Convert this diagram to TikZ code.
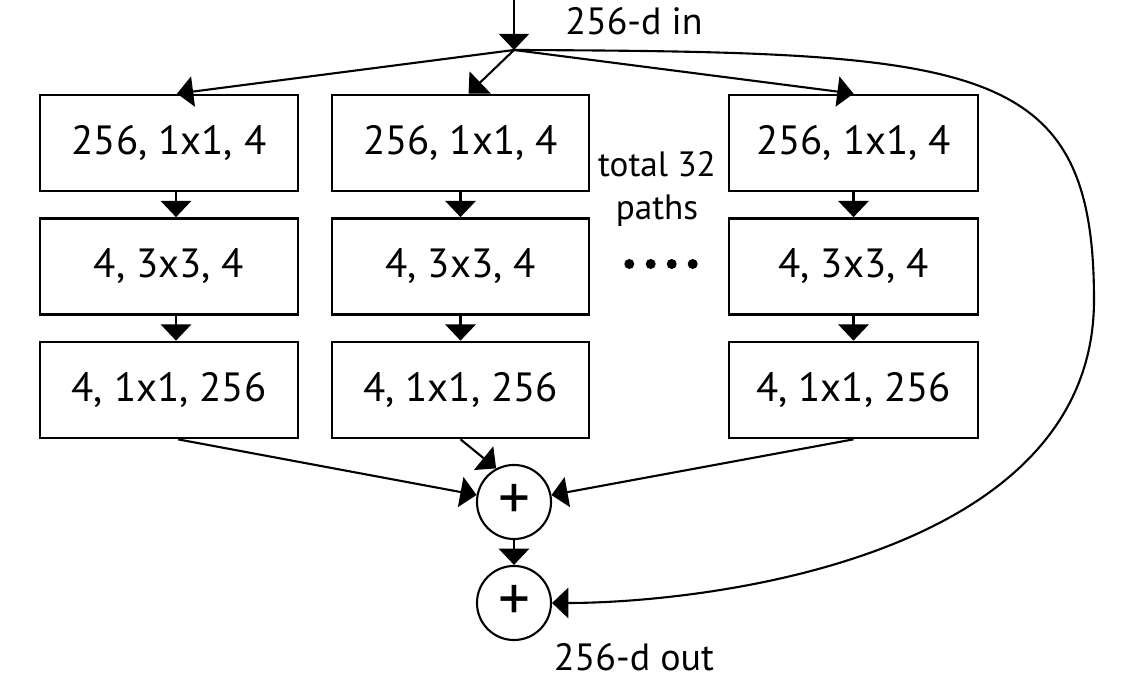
\documentclass[tikz,border=0pt]{standalone}
\usepackage{fontspec}
\setmainfont{PT Sans}
\usetikzlibrary{arrows.meta}
\begin{document}
\begin{tikzpicture}[x=0.01cm,y=-0.01cm,
  box/.style={draw, line width=0.75pt, minimum height=0.96cm, inner sep=0pt, font=\fontsize{11.6}{14}\selectfont},
  sumnode/.style={draw, circle, line width=0.6pt, minimum size=0.74cm, inner sep=0pt, font=\fontsize{18}{18}\selectfont},
  lbl/.style={font=\fontsize{10.8}{12.5}\selectfont, inner sep=0pt},
  conn/.style={line width=0.6pt, -{Triangle[length=4.6pt,width=8.6pt]}},
  ]
\useasboundingbox (0,0) rectangle (1142,686);
% column 1
\node[box, minimum width=2.58cm] (a1) at (169,143) {256, 1x1, 4};
\node[box, minimum width=2.58cm] (a2) at (169,266.5) {4, 3x3, 4};
\node[box, minimum width=2.58cm] (a3) at (169,390) {4, 1x1, 256};
% column 2
\node[box, minimum width=2.57cm] (b1) at (460.5,143) {256, 1x1, 4};
\node[box, minimum width=2.57cm] (b2) at (460.5,266.5) {4, 3x3, 4};
\node[box, minimum width=2.57cm] (b3) at (460.5,390) {4, 1x1, 256};
% column 3
\node[box, minimum width=2.49cm] (d1) at (853.5,143) {256, 1x1, 4};
\node[box, minimum width=2.49cm] (d2) at (853.5,266.5) {4, 3x3, 4};
\node[box, minimum width=2.49cm] (d3) at (853.5,390) {4, 1x1, 256};
% sums
\node[sumnode] (c1) at (514,502) {+};
\node[sumnode] (c2) at (514,603) {+};
% labels
\node[lbl] (inlbl) at (634,21) {256-d in};
\node[lbl] (outlbl) at (634,657) {256-d out};
\node[font=\fontsize{10}{12.2}\selectfont, align=center, inner sep=0pt] (tot) at (657,189) {total 32\\paths};
\foreach \x in {629.3,650.7,671.7,692.7} \fill (\x,264) circle (0.05cm);
% input
\coordinate (in) at (514,0);
\coordinate (split) at (514,50);
\draw[conn] (in) -- (split);
\draw[conn] (split) -- ([xshift=0.08cm]a1.north);
\draw[conn] (split) -- ([xshift=0.08cm]b1.north);
\draw[conn] (split) -- (d1.north);
% vertical arrows
\draw[conn] ([xshift=0.07cm]a1.south) -- ([xshift=0.07cm]a2.north);
\draw[conn] ([xshift=0.07cm]a2.south) -- ([xshift=0.07cm]a3.north);
\draw[conn] (b1.south) -- (b2.north);
\draw[conn] (b2.south) -- (b3.north);
\draw[conn] (d1.south) -- (d2.north);
\draw[conn] (d2.south) -- (d3.north);
% merge
\draw[conn] ([xshift=0.09cm]a3.south) -- (c1);
\draw[conn] (b3.south) -- (c1.118);
\draw[conn] (d3.south) -- (c1);
\draw[conn] (c1) -- (c2);
% skip
\coordinate (skipR) at (1094,300);
\draw[conn] (split) .. controls (980,52) and (1094,60) .. (skipR)
  .. controls (1094,560) and (700,603) .. (c2.east);
\end{tikzpicture}
\end{document}
